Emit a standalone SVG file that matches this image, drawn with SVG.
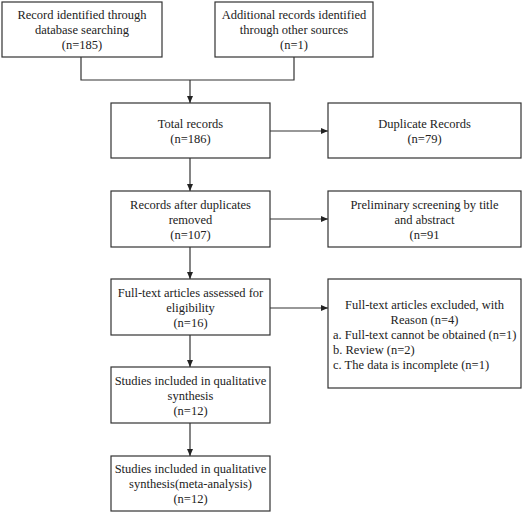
<svg xmlns="http://www.w3.org/2000/svg" width="526" height="514" viewBox="0 0 526 514">
<style>
.box{fill:#fff;stroke:#333;stroke-width:1.2}
.t{font-family:"Liberation Serif","Times New Roman",serif;font-size:12.5px;fill:#222;text-anchor:middle}
.l{text-anchor:start}
.c{fill:none;stroke:#333;stroke-width:1.2}
</style>
<defs>
<marker id="ah" markerUnits="userSpaceOnUse" markerWidth="8" markerHeight="8" refX="7" refY="4" orient="auto">
<path d="M0,1 L7,4 L0,7 Z" fill="#222"/>
</marker>
</defs>
<rect width="526" height="514" fill="#fff"/>
<g id="connectors">
<path class="c" d="M81,57 V80 H294 V57"/>
<path class="c" d="M190,80 V103" marker-end="url(#ah)"/>
<path class="c" d="M270,131 H328" marker-end="url(#ah)"/>
<path class="c" d="M190,158 V191" marker-end="url(#ah)"/>
<path class="c" d="M270,219 H328" marker-end="url(#ah)"/>
<path class="c" d="M190,247 V279" marker-end="url(#ah)"/>
<path class="c" d="M270,308 H328" marker-end="url(#ah)"/>
<path class="c" d="M190,335 V367" marker-end="url(#ah)"/>
<path class="c" d="M190,423 V456" marker-end="url(#ah)"/>
</g>
<g id="n1">
<rect class="box" x="2" y="2" width="160" height="55"/>
<text class="t" x="82" y="19">Record identified through</text>
<text class="t" x="82" y="34">database searching</text>
<text class="t" x="82" y="49">(n=185)</text>
</g>
<g id="n2">
<rect class="box" x="215" y="2" width="158" height="55"/>
<text class="t" x="294" y="19">Additional records identified</text>
<text class="t" x="294" y="34">through other sources</text>
<text class="t" x="294" y="49">(n=1)</text>
</g>
<g id="n3">
<rect class="box" x="111" y="103" width="159" height="55"/>
<text class="t" x="190.5" y="127.5">Total records</text>
<text class="t" x="190.5" y="142.5">(n=186)</text>
</g>
<g id="n4">
<rect class="box" x="328" y="103" width="193" height="55"/>
<text class="t" x="424.5" y="127.5">Duplicate Records</text>
<text class="t" x="424.5" y="142.5">(n=79)</text>
</g>
<g id="n5">
<rect class="box" x="111" y="191" width="159" height="56"/>
<text class="t" x="190.5" y="208.5">Records after duplicates</text>
<text class="t" x="190.5" y="223.5">removed</text>
<text class="t" x="190.5" y="238.5">(n=107)</text>
</g>
<g id="n6">
<rect class="box" x="328" y="191" width="193" height="56"/>
<text class="t" x="424.5" y="208.5">Preliminary screening by title</text>
<text class="t" x="424.5" y="223.5">and abstract</text>
<text class="t" x="424.5" y="238.5">(n=91</text>
</g>
<g id="n7">
<rect class="box" x="111" y="279" width="159" height="56"/>
<text class="t" x="190.5" y="296.5">Full-text articles assessed for</text>
<text class="t" x="190.5" y="311.5">eligibility</text>
<text class="t" x="190.5" y="326.5">(n=16)</text>
</g>
<g id="n8">
<rect class="box" x="328" y="279" width="193" height="109"/>
<text class="t" x="424.5" y="309">Full-text articles excluded, with</text>
<text class="t" x="424.5" y="324">Reason (n=4)</text>
<text class="t l" x="333" y="339">a. Full-text cannot be obtained (n=1)</text>
<text class="t l" x="333" y="354">b. Review (n=2)</text>
<text class="t l" x="333" y="369">c. The data is incomplete (n=1)</text>
</g>
<g id="n9">
<rect class="box" x="111" y="367" width="159" height="56"/>
<text class="t" x="190.5" y="384.5">Studies included in qualitative</text>
<text class="t" x="190.5" y="399.5">synthesis</text>
<text class="t" x="190.5" y="414.5">(n=12)</text>
</g>
<g id="n10">
<rect class="box" x="111" y="456" width="159" height="55"/>
<text class="t" x="190.5" y="473">Studies included in qualitative</text>
<text class="t" x="190.5" y="488">synthesis(meta-analysis)</text>
<text class="t" x="190.5" y="503">(n=12)</text>
</g>
</svg>
